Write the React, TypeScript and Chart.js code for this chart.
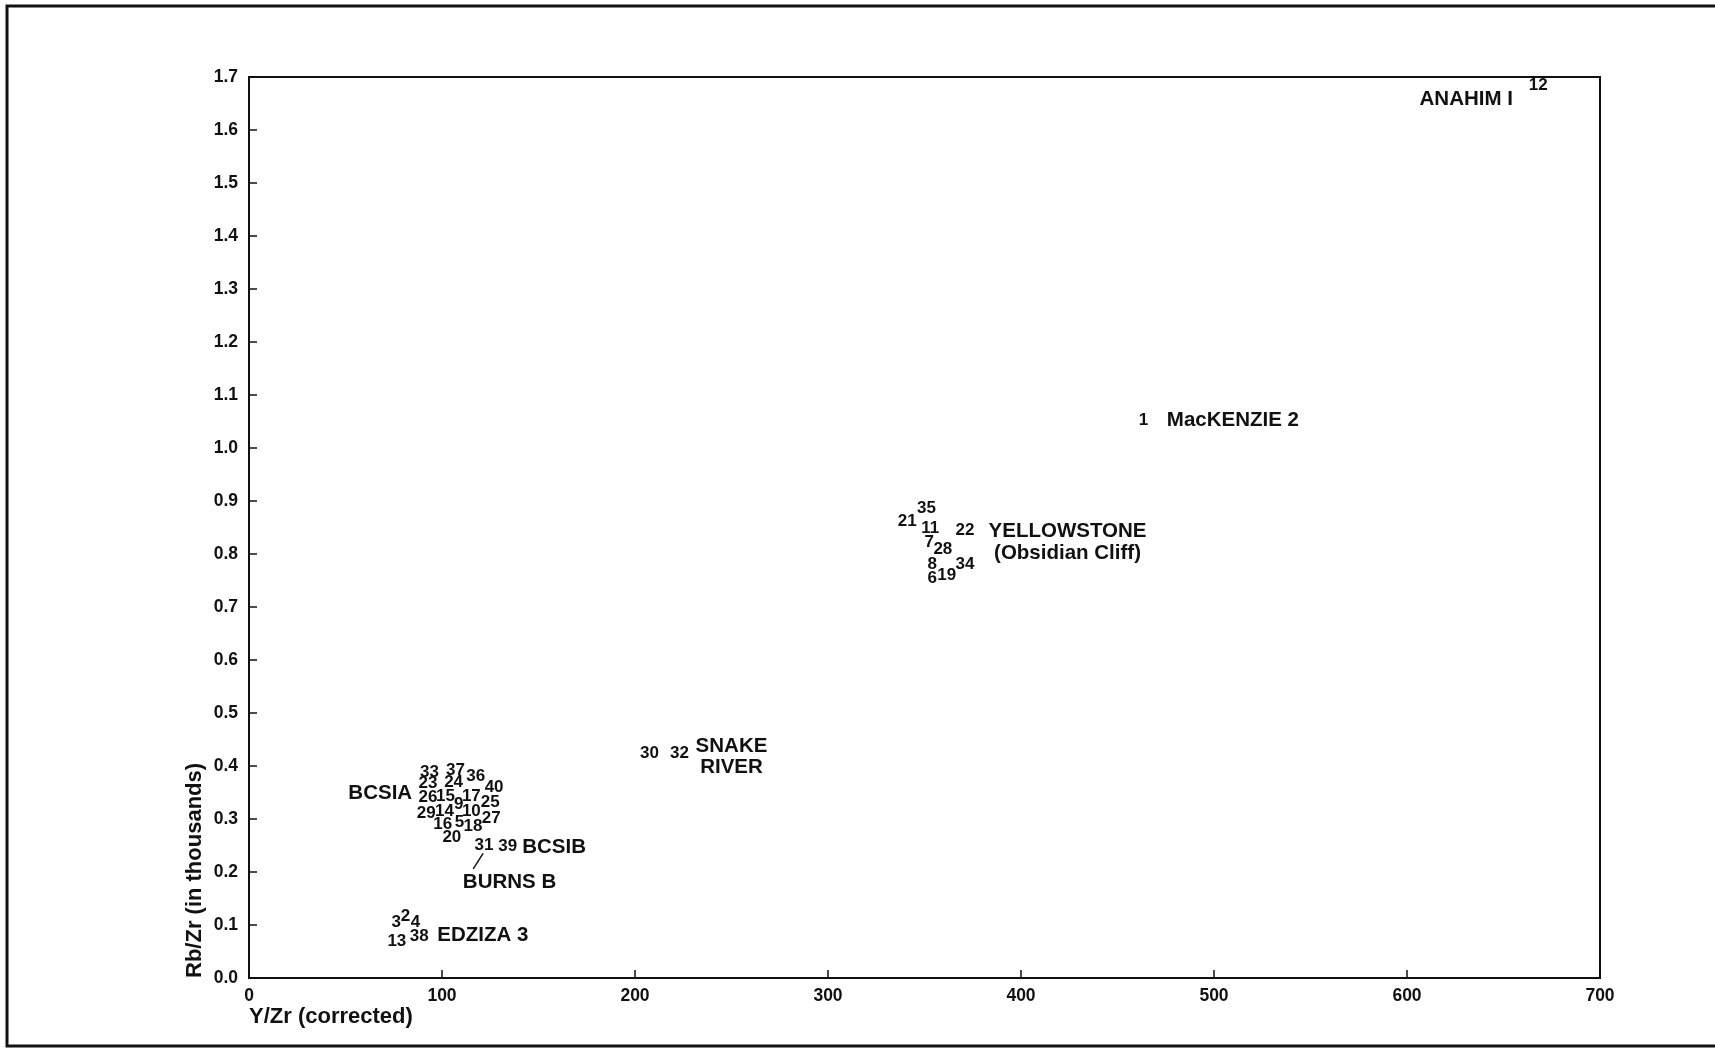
import React, { useEffect, useRef } from 'react';
import { Chart, registerables } from 'chart.js';
Chart.register(...registerables);

// Sample numbers (drawn as the point "markers")
const sampleIds = ['12', '1', '35', '21', '11', '22', '7', '28', '8', '6', '19', '34', '30', '32',
  '33', '37', '36', '40', '23', '24', '26', '15', '17', '25', '9', '29', '14', '10', '27', '16', '5', '18', '20',
  '31', '39', '2', '3', '4', '13', '38'];
// Y/Zr (corrected)
const yZr = [668, 463.5, 351, 341, 353, 371, 352.5, 359.5, 354, 354, 361.5, 371, 207.5, 223,
  93.5, 107, 117.5, 127, 92.7, 106, 92.7, 101.8, 115.2, 125, 108.7, 91.8, 101.3, 115.2, 125.5, 100.4, 109.1, 116, 105.1,
  121.7, 134.1, 81.1, 76.3, 86.3, 76.6, 88.2];
// Rb/Zr (in thousands)
const rbZr = [1.684, 1.052, 0.886, 0.861, 0.849, 0.845, 0.822, 0.808, 0.78, 0.754, 0.76, 0.78, 0.424, 0.424,
  0.389, 0.392, 0.38, 0.359, 0.367, 0.369, 0.34, 0.343, 0.342, 0.332, 0.328, 0.311, 0.315, 0.315, 0.302, 0.29, 0.293, 0.286, 0.266,
  0.251, 0.249, 0.117, 0.106, 0.106, 0.07, 0.078];

// Group annotations (centre positions in data units)
const groupNames = ['ANAHIM I', 'MacKENZIE 2', 'YELLOWSTONE', '(Obsidian Cliff)', 'SNAKE', 'RIVER', 'BCSIA', 'BCSIB', 'BURNS B', 'EDZIZA 3'];
const groupX = [630.7, 509.8, 424.1, 424.1, 250, 250, 68, 158.1, 135, 121.2];
const groupY = [1.657, 1.053, 0.843, 0.801, 0.437, 0.397, 0.348, 0.247, 0.181, 0.08];

// Leader line from sample 31 to BURNS B
const leaderX = [121.3, 116.2];
const leaderY = [0.235, 0.206];

const X_MIN = 0, X_MAX = 700, X_STEP = 100;
const Y_MIN = 0, Y_MAX = 1.7, Y_STEP = 0.1;

const W = 1715, H = 1052;
const FONT = '"Liberation Sans", Arial, sans-serif';
const INK = '#111';

export default function App() {
  const ref = useRef<HTMLCanvasElement>(null);
  useEffect(() => {
    const canvas = ref.current!;
    const plugin = {
      id: 'figure',
      beforeDraw(chart: any) {
        const ctx = chart.ctx;
        ctx.save();
        ctx.fillStyle = '#fff';
        ctx.fillRect(0, 0, chart.width, chart.height);
        ctx.strokeStyle = INK;
        ctx.lineWidth = 3;
        ctx.beginPath();
        ctx.moveTo(W, 6);
        ctx.lineTo(7, 6);
        ctx.lineTo(7, 1046);
        ctx.lineTo(W, 1046);
        ctx.stroke();
        ctx.restore();
      },
      afterDraw(chart: any) {
        const { ctx, chartArea: a, scales } = chart;
        const xs = scales.x, ys = scales.y;
        ctx.save();
        ctx.strokeStyle = INK;
        ctx.lineWidth = 2;
        ctx.strokeRect(a.left, a.top, a.right - a.left, a.bottom - a.top);
        ctx.lineWidth = 1.5;
        ctx.beginPath();
        xs.ticks.forEach((t: any) => {
          const px = xs.getPixelForValue(t.value);
          ctx.moveTo(px, a.bottom);
          ctx.lineTo(px, a.bottom - 8);
        });
        ys.ticks.forEach((t: any) => {
          const py = ys.getPixelForValue(t.value);
          ctx.moveTo(a.left, py);
          ctx.lineTo(a.left + 8, py);
        });
        ctx.stroke();

        ctx.fillStyle = INK;
        ctx.textAlign = 'center';
        ctx.textBaseline = 'middle';
        ctx.font = `bold 17px ${FONT}`;
        const meta = chart.getDatasetMeta(0);
        meta.data.forEach((el: any, i: number) => ctx.fillText(sampleIds[i], el.x, el.y));

        ctx.font = `bold 20.5px ${FONT}`;
        groupNames.forEach((n, i) =>
          ctx.fillText(n, xs.getPixelForValue(groupX[i]), ys.getPixelForValue(groupY[i])));

        ctx.lineWidth = 1.5;
        ctx.beginPath();
        ctx.moveTo(xs.getPixelForValue(leaderX[0]), ys.getPixelForValue(leaderY[0]));
        ctx.lineTo(xs.getPixelForValue(leaderX[1]), ys.getPixelForValue(leaderY[1]));
        ctx.stroke();
        ctx.restore();
      },
    };

    const chart = new Chart(canvas, {
      type: 'scatter',
      data: {
        datasets: [{
          data: yZr.map((x, i) => ({ x, y: rbZr[i] })),
          pointRadius: 0,
          pointHoverRadius: 0,
          showLine: false,
        }],
      },
      options: {
        responsive: false,
        animation: false,
        events: [],
        layout: { padding: { left: 182, top: 77, right: 115, bottom: 22 } },
        plugins: { legend: { display: false }, tooltip: { enabled: false } },
        scales: {
          x: {
            type: 'linear',
            position: 'bottom',
            min: X_MIN,
            max: X_MAX,
            ticks: {
              stepSize: X_STEP,
              padding: 8,
              color: INK,
              maxRotation: 0,
              autoSkip: false,
              font: { family: FONT, size: 17.5, weight: 'bold' },
            },
            grid: { display: false, drawTicks: false },
            border: { display: false },
            title: {
              display: true,
              text: 'Y/Zr (corrected)',
              align: 'start',
              color: INK,
              font: { family: FONT, size: 22, weight: 'bold' },
              padding: { top: 0, bottom: 0 },
            },
            afterFit: (s: any) => { s.height = 52; },
          },
          y: {
            type: 'linear',
            position: 'left',
            min: Y_MIN,
            max: Y_MAX,
            ticks: {
              stepSize: Y_STEP,
              padding: 11,
              color: INK,
              autoSkip: false,
              font: { family: FONT, size: 17.5, weight: 'bold' },
              callback: (v: any) => Number(v).toFixed(1),
            },
            grid: { display: false, drawTicks: false },
            border: { display: false },
            title: {
              display: true,
              text: 'Rb/Zr (in thousands)',
              align: 'start',
              color: INK,
              font: { family: FONT, size: 22, weight: 'bold' },
              padding: { top: 0, bottom: 0 },
            },
            afterFit: (s: any) => { s.width = 67; },
          },
        },
      },
      plugins: [plugin],
    } as any);
    return () => chart.destroy();
  }, []);
  return (
    <div style={{ position: 'fixed', left: 0, top: 0, width: W, height: H, background: '#fff' }}>
      <canvas ref={ref} width={W} height={H} style={{ display: 'block', width: W, height: H }} />
    </div>
  );
}
